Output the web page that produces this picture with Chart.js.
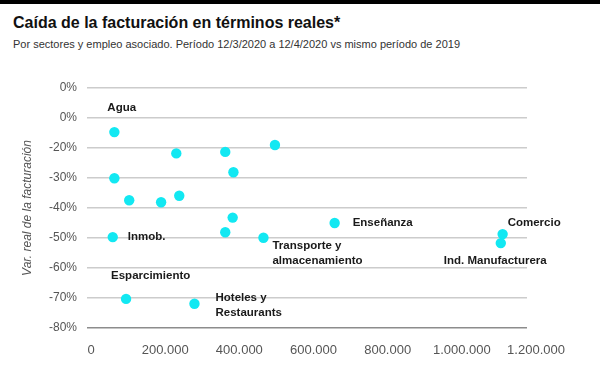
<!DOCTYPE html>
<html>
<head>
<meta charset="utf-8">
<script src="https://cdn.jsdelivr.net/npm/chart.js@4.4.1/dist/chart.umd.min.js"></script>
<style>
  body { margin: 0; background: #fff; }
  #wrap { position: relative; width: 600px; height: 365px; overflow: hidden; font-family: "Liberation Sans", Arial, sans-serif; }
  #banda { position: absolute; left: 0; top: 0; width: 600px; height: 4px; background: #000; }
  #titulo { position: absolute; left: 13px; top: 13px; margin: 0; font-size: 16px; line-height: 20px; font-weight: bold; color: #111; white-space: nowrap; }
  #subtitulo { position: absolute; left: 13px; top: 37px; margin: 0; font-size: 11px; line-height: 14px; color: #333; white-space: nowrap; }
  canvas { position: absolute; left: 0; top: 0; }
</style>
</head>
<body>
<div id="wrap">
  <div id="banda"></div>
  <h1 id="titulo">Caída de la facturación en términos reales*</h1>
  <p id="subtitulo">Por sectores y empleo asociado. Período 12/3/2020 a 12/4/2020 vs mismo período de 2019</p>
  <canvas id="grafico" width="600" height="365"></canvas>
</div>
<script>
// datos: empleo asociado (x) y variación real (%) (y)
const empleo = [63000, 230000, 362000, 496000, 63000, 384000, 103000, 189000, 238000,
                382000, 362000, 58600, 465000, 94500, 279000, 657000, 1110000, 1105000];
const variacion = [-14.7, -21.8, -21.3, -19.0, -30.1, -28.1, -37.4, -38.1, -35.9,
                   -43.2, -48.1, -49.7, -49.9, -70.3, -71.9, -45.0, -48.7, -51.7];
const sectores = [['Agua'], [], [], [], [], [], [], [], [],
                  [], [], ['Inmob.'], ['Transporte y', 'almacenamiento'], ['Esparcimiento'],
                  ['Hoteles y', 'Restaurants'], ['Enseñanza'], ['Comercio'], ['Ind. Manufacturera']];

const xTicks = [0, 200000, 400000, 600000, 800000, 1000000, 1200000];
const xTickLabels = ['0', '200.000', '400.000', '600.000', '800.000', '1.000.000', '1.200.000'];
const yTicks = [0, -10, -20, -30, -40, -50, -60, -70, -80];
const yTickLabels = ['0%', '0%', '-20%', '-30%', '-40%', '-50%', '-60%', '-70%', '-80%'];

// posición de cada etiqueta respecto de su punto (px)
const desplazamientos = {
  'Agua': [-7, -24],
  'Inmob.': [15, 0],
  'Transporte y': [9, 8],
  'Esparcimiento': [-15, -23],
  'Hoteles y': [21, -6],
  'Enseñanza': [18, 0],
  'Comercio': [5, -11],
  'Ind. Manufacturera': [-57, 18]
};

Chart.defaults.font.family = '"Liberation Sans", Arial, sans-serif';

const etiquetasPlugin = {
  id: 'etiquetas',
  afterDatasetsDraw(chart) {
    const ctx = chart.ctx;
    const meta = chart.getDatasetMeta(0);
    ctx.save();
    ctx.font = 'bold 11.5px "Liberation Sans", Arial, sans-serif';
    ctx.fillStyle = '#1a1a1a';
    ctx.textBaseline = 'middle';
    ctx.textAlign = 'left';
    meta.data.forEach((pt, i) => {
      const lineas = sectores[i];
      if (!lineas.length) return;
      const [dx, dy] = desplazamientos[lineas[0]];
      lineas.forEach((l, j) => ctx.fillText(l, pt.x + dx, pt.y + dy + j * 15));
    });
    ctx.restore();
  }
};

new Chart(document.getElementById('grafico'), {
  type: 'scatter',
  data: {
    datasets: [{
      data: empleo.map((x, i) => ({ x: x, y: variacion[i] })),
      backgroundColor: '#12e8f2',
      borderWidth: 0,
      pointRadius: 5.2,
      pointHoverRadius: 5.2
    }]
  },
  options: {
    responsive: false,
    animation: false,
    events: [],
    layout: { padding: { left: 0, right: 73, top: 88, bottom: 0 } },
    plugins: { legend: { display: false }, tooltip: { enabled: false } },
    scales: {
      x: {
        type: 'linear',
        min: -10800,
        max: 1175700,
        afterBuildTicks: s => { s.ticks = xTicks.map(v => ({ value: v })); },
        afterFit: s => { s.height = 37; },
        ticks: {
          autoSkip: false,
          maxRotation: 0,
          padding: 15,
          color: '#555',
          font: { size: 13 },
          callback: v => xTickLabels[xTicks.indexOf(v)]
        },
        grid: { display: false, drawTicks: false },
        border: { display: false }
      },
      y: {
        min: -80,
        max: 0,
        afterBuildTicks: s => { s.ticks = yTicks.map(v => ({ value: v })); },
        afterFit: s => { s.width = 87; },
        ticks: {
          padding: 10,
          color: '#555',
          font: { size: 12 },
          callback: v => yTickLabels[yTicks.indexOf(v)]
        },
        grid: {
          color: c => (c.tick && c.tick.value === -80) ? '#8c8c8c' : '#cccccc',
          lineWidth: 1.5,
          drawTicks: false
        },
        border: { display: false },
        title: {
          display: true,
          text: 'Var. real de la facturación',
          color: '#555',
          font: { size: 12, style: 'italic' },
          padding: { top: 20, bottom: 0 }
        }
      }
    }
  },
  plugins: [etiquetasPlugin]
});
</script>
</body>
</html>
